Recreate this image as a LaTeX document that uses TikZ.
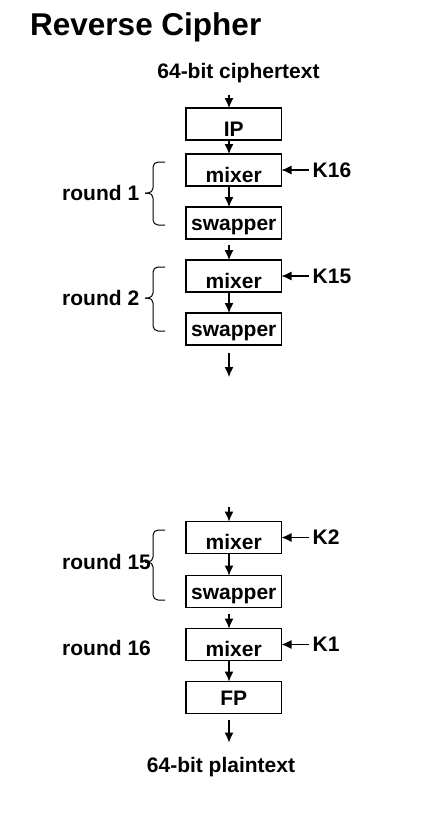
\documentclass[tikz,border=0pt]{standalone}
\usepackage{fontspec}
\setmainfont{Liberation Sans}
\usetikzlibrary{arrows.meta, positioning}

\begin{document}
\begin{tikzpicture}[x=1pt, y=-1pt, node distance=21pt, font=\fontsize{21}{25}\selectfont\bfseries]
      \tikzstyle{block} = [rectangle, draw, line width=1.2pt, minimum width=95.5pt, minimum height=32pt, inner sep=2pt, outer sep=0pt, text height=15pt, text depth=0pt]
      \tikzstyle{low} = [text height=24pt]
      \tikzstyle{tag} = [inner sep=0pt]
      \tikzstyle{line} = [draw, line width=1.2pt, -{Latex[length=10pt, width=9pt]}]
      \tikzstyle{brace} = [draw, line width=1pt, rounded corners=5pt]

      \useasboundingbox (0,0) rectangle (426,816);
      \coordinate (ax) at (229,0);
      \coordinate (gap1) at (229,377);
      \coordinate (gap2) at (229,507);

      \node [tag, anchor=base west, font=\fontsize{31.5}{36}\selectfont\bfseries] (title) at (30,36) {Reverse Cipher};
      \node [tag, anchor=base] (cipher) at (238.5,78) {64-bit ciphertext};

      \node [block, low] (ip) at (233.75,124) {IP};
      \node [block, low, below=14pt of ip] (mix1) {mixer};
      \node [block, below=of mix1] (swp1) {swapper};
      \node [block, low, below=of swp1] (mix2) {mixer};
      \node [block, below=of mix2] (swp2) {swapper};
      \node [block, low] (mix3) at (233.75,537.5) {mixer};
      \node [block, below=22pt of mix3] (swp3) {swapper};
      \node [block, low, below=of swp3] (mix4) {mixer};
      \node [block, below=of mix4] (fp) {FP};

      \node [tag, anchor=base] (plain) at (221,772) {64-bit plaintext};

      % round keys
      \node [tag, right=31pt of mix1] (k16) {K16};
      \node [tag, right=31pt of mix2] (k15) {K15};
      \node [tag, right=31pt of mix3] (k2) {K2};
      \node [tag, right=31pt of mix4] (k1) {K1};

      % round labels
      \node [tag, anchor=west] (r1) at (62,193) {round 1};
      \node [tag, anchor=west] (r2) at (62,298) {round 2};
      \node [tag, anchor=west] (r15) at (62,562) {round 15};
      \node [tag, anchor=west] (r16) at (62,648) {round 16};

      \foreach \ya/\yb/\ym in {162/225/193, 267/331/298, 530/600/562} {
        \path [brace] (165,\ya) -- (153,\ya) -- (153,\ym) -- (145,\ym);
        \path [brace] (165,\yb) -- (153,\yb) -- (153,\ym) -- (145,\ym);
      }

      \path [line, shorten <=12.5pt] (cipher.south -| ax) -- (ip.north -| ax);
      \path [line] (ip.south -| ax) -- (mix1.north -| ax);
      \path [line] (mix1.south -| ax) -- (swp1.north -| ax);
      \path [line, shorten <=6pt] (swp1.south -| ax) -- (mix2.north -| ax);
      \path [line] (mix2.south -| ax) -- (swp2.north -| ax);
      \path [line, shorten <=8pt] (swp2.south -| ax) -- (gap1);
      \path [line] (gap2) -- (mix3.north -| ax);
      \path [line] (mix3.south -| ax) -- (swp3.north -| ax);
      \path [line, shorten <=6pt] (swp3.south -| ax) -- (mix4.north -| ax);
      \path [line] (mix4.south -| ax) -- (fp.north -| ax);
      \path [line, shorten <=6pt, shorten >=14pt] (fp.south -| ax) -- (plain.north -| ax);

      \path [line, shorten <=4pt] (k16.west) -- (mix1.east);
      \path [line, shorten <=4pt] (k15.west) -- (mix2.east);
      \path [line, shorten <=4pt] (k2.west) -- (mix3.east);
      \path [line, shorten <=4pt] (k1.west) -- (mix4.east);
    \end{tikzpicture}
\end{document}
